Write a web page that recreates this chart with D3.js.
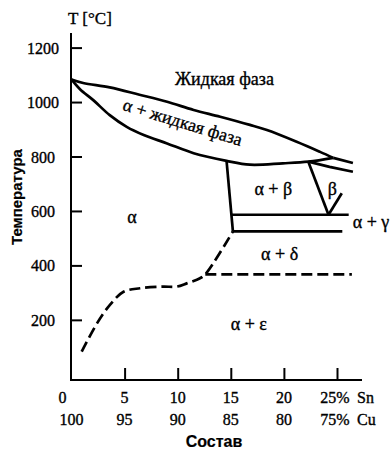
<!DOCTYPE html>
<html>
<head>
<meta charset="utf-8">
<script src="https://cdn.jsdelivr.net/npm/d3@7"></script>
<style>
  body { margin: 0; background: #fff; }
  svg text { fill: #000; stroke: #000; stroke-width: 0.35px; }
</style>
</head>
<body>
<svg id="chart" width="391" height="453"></svg>
<script>
// Axis ticks and labels
const tempTicks = [200, 400, 600, 800, 1000, 1200];
const snTicks = [0, 5, 10, 15, 20, 25];
const snLabels = ["0", "5", "10", "15", "20", "25%"];
const cuLabels = ["100", "95", "90", "85", "80", "75%"];

// Phase boundaries of the Cu–Sn system, points are [Sn %, T °C]
const liquidus = [[0, 1083], [1.1, 1070], [3.6, 1054], [6.4, 1027], [9.0, 1001], [11.5, 971],
  [14.0, 946], [16.8, 916], [18.4, 897], [21.2, 854], [23.4, 817], [24.65, 795]];
const solidus = [[0, 1083], [0.8, 1047], [2.05, 1007], [3.6, 952], [5.2, 909], [6.8, 879],
  [9.0, 848], [11.5, 812], [14.6, 784], [16.8, 770], [19.9, 775], [22.3, 781], [24.65, 795]];
const betaLiquidus = [[24.65, 795], [26.5, 776]];
const betaSolidus = [[22.3, 781], [24.3, 762], [26.5, 744]];
const betaLeft = [[22.3, 781], [24.2, 586]];
const betaRight = [[24.2, 586], [25.45, 665]];
const alphaBetaLimit = [[14.6, 784], [15.2, 525]];
const eutectoidBeta = [[15.1, 586], [26.1, 586]];
const eutectoidGamma = [[15.2, 525], [25.5, 525]];
const alphaSolvus = [[0.96, 83], [2.4, 187], [3.6, 254], [4.9, 303], [6.45, 316], [8.6, 322],
  [9.9, 322], [10.85, 334], [12.1, 353], [12.6, 367], [15.2, 525]];
const deltaEps = [[12.6, 367], [26.4, 367]];

// Phase field labels: text, Sn %, T °C, rotation
const phaseLabels = [
  { text: "Жидкая фаза", sn: 14.4, t: 1062, rot: 0 },
  { text: "α + жидкая фаза", sn: 10.3, t: 905, rot: 17 },
  { text: "α", sn: 5.7, t: 556, rot: 0 },
  { text: "α + β", sn: 19.0, t: 658, rot: 0 },
  { text: "β", sn: 24.55, t: 658, rot: 0 },
  { text: "α + γ", sn: 28.2, t: 537, rot: 0 },
  { text: "α + δ", sn: 19.6, t: 420, rot: 0 },
  { text: "α + ε", sn: 16.7, t: 163, rot: 0 }
];

const svg = d3.select("#chart");
const serif = "'Liberation Serif', 'DejaVu Serif', serif";
const sans = "'Liberation Sans', Arial, sans-serif";

const x = d3.scaleLinear().domain([0, 25]).range([71.5, 337]);
const y = d3.scaleLinear().domain([0, 1200]).range([374.3, 47.6]);

const axisX0 = 71, axisY0 = 380;

// axes lines
svg.append("line").attr("x1", axisX0).attr("x2", axisX0).attr("y1", 33).attr("y2", axisY0)
  .attr("stroke", "#000").attr("stroke-width", 2);
svg.append("line").attr("x1", axisX0 - 1).attr("x2", 362).attr("y1", axisY0).attr("y2", axisY0)
  .attr("stroke", "#000").attr("stroke-width", 2);

// y axis ticks pointing inward
const yAxis = d3.axisLeft(y).tickValues(tempTicks).tickSizeInner(-11).tickSizeOuter(0).tickFormat("");
const gy = svg.append("g").attr("transform", `translate(${axisX0},0)`).call(yAxis);
gy.select(".domain").remove();
gy.selectAll(".tick line").attr("stroke", "#000").attr("stroke-width", 2);

svg.append("g").selectAll("text").data(tempTicks).join("text")
  .attr("x", 43).attr("y", d => y(d)).attr("dy", "0.38em")
  .attr("text-anchor", "middle")
  .style("font-family", serif).style("font-size", "16px")
  .text(d => d);

// x axis ticks pointing inward
const xAxis = d3.axisBottom(x).tickValues(snTicks.slice(1)).tickSizeInner(-12).tickSizeOuter(0).tickFormat("");
const gx = svg.append("g").attr("transform", `translate(0,${axisY0})`).call(xAxis);
gx.select(".domain").remove();
gx.selectAll(".tick line").attr("stroke", "#000").attr("stroke-width", 2);

svg.append("g").selectAll("text").data(snTicks).join("text")
  .attr("x", (d, i) => x(d) + (i === 0 ? -9 : (i === snTicks.length - 1 ? -2 : 0)))
  .attr("y", 403)
  .attr("text-anchor", "middle")
  .style("font-family", serif).style("font-size", "16px")
  .text((d, i) => snLabels[i]);
svg.append("g").selectAll("text").data(snTicks).join("text")
  .attr("x", (d, i) => x(d) + (i === snTicks.length - 1 ? -2 : 0))
  .attr("y", 425)
  .attr("text-anchor", "middle")
  .style("font-family", serif).style("font-size", "16px")
  .text((d, i) => cuLabels[i]);

svg.append("text").attr("x", 357).attr("y", 403)
  .style("font-family", serif).style("font-size", "16px").text("Sn");
svg.append("text").attr("x", 357).attr("y", 425)
  .style("font-family", serif).style("font-size", "16px").text("Cu");

// axis titles
svg.append("text").attr("x", 68).attr("y", 24)
  .style("font-family", serif).style("font-size", "17px").text("T [°C]");
svg.append("text").attr("x", 214).attr("y", 447).attr("text-anchor", "middle")
  .style("stroke-width", "0.2px")
  .style("font-family", sans).style("font-size", "16px").style("font-weight", "bold").text("Состав");
svg.append("text")
  .attr("transform", "translate(22,197) rotate(-90)")
  .attr("text-anchor", "middle")
  .style("stroke-width", "0.2px")
  .style("font-family", sans).style("font-size", "15px").style("font-weight", "bold").text("Температура");

// phase boundaries
const curve = d3.line().x(d => x(d[0])).y(d => y(d[1])).curve(d3.curveCatmullRom.alpha(0.5));
const straight = d3.line().x(d => x(d[0])).y(d => y(d[1]));

const solid = [
  [liquidus, curve], [solidus, curve], [betaLiquidus, straight], [betaSolidus, straight],
  [betaLeft, straight], [betaRight, straight], [alphaBetaLimit, straight],
  [eutectoidBeta, straight], [eutectoidGamma, straight]
];
solid.forEach(([pts, gen]) => {
  svg.append("path").attr("d", gen(pts)).attr("fill", "none")
    .attr("stroke", "#000").attr("stroke-width", 2.7)
    .attr("stroke-linejoin", "round").attr("stroke-linecap", "butt");
});

[[alphaSolvus, curve], [deltaEps, straight]].forEach(([pts, gen]) => {
  svg.append("path").attr("d", gen(pts)).attr("fill", "none")
    .attr("stroke", "#000").attr("stroke-width", 2.7)
    .attr("stroke-dasharray", "11,5");
});

// phase field labels
svg.append("g").selectAll("text").data(phaseLabels).join("text")
  .attr("transform", d => `translate(${x(d.sn)},${y(d.t)}) rotate(${d.rot})`)
  .attr("text-anchor", "middle")
  .style("font-family", serif).style("font-size", "18px")
  .text(d => d.text);
</script>
</body>
</html>
